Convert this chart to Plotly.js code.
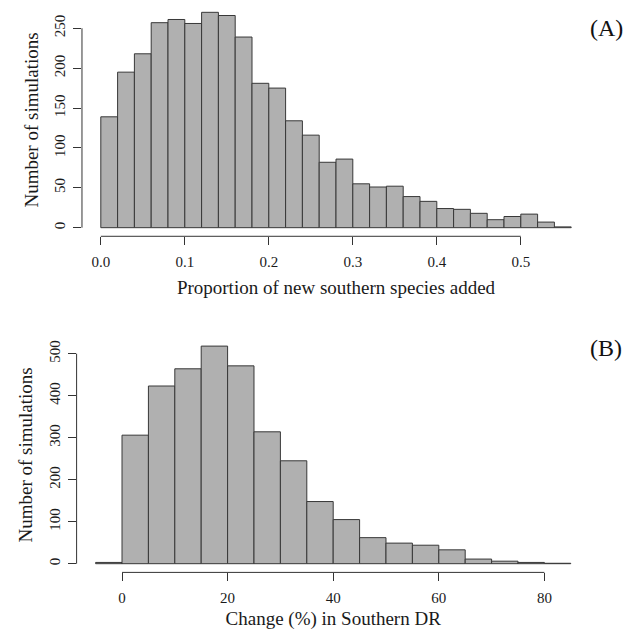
<!DOCTYPE html>
<html><head><meta charset="utf-8">
<script src="https://cdn.plot.ly/plotly-3.0.1.min.js"></script>
<style>html,body{margin:0;padding:0;background:#fff;}</style>
</head><body><div id="chart" style="width:636px;height:634px;"></div>
<script>
// Panel A: proportion of new southern species added (bin edges + counts)
const edgesA = [0,0.02,0.04,0.06,0.08,0.10,0.12,0.14,0.16,0.18,0.20,0.22,0.24,0.26,0.28,0.30,0.32,0.34,0.36,0.38,0.40,0.42,0.44,0.46,0.48,0.50,0.52,0.54,0.56];
const countsA = [139,195,218,257,261,256,270,266,239,181,175,134,116,82,86,55,51,52,39,33,24,23,18,10,14,17,7,1];
const xTicksA = [0,0.1,0.2,0.3,0.4,0.5];
const xTickTextA = ["0.0","0.1","0.2","0.3","0.4","0.5"];
const yTicksA = [0,50,100,150,200,250];

// Panel B: change (%) in Southern DR
const edgesB = [-5,0,5,10,15,20,25,30,35,40,45,50,55,60,65,70,75,80,85];
const countsB = [3,306,423,464,518,471,314,245,148,105,62,49,44,33,11,6,3,1];
const xTicksB = [0,20,40,60,80];
const yTicksB = [0,100,200,300,400,500];

const titleA = "Proportion of new southern species added";
const titleB = "Change (%) in Southern DR";
const yTitle = "Number of simulations";

const FONT = "Liberation Serif, 'Times New Roman', serif";
const BAR_FILL = "#b0b0b0";
const BAR_LINE = "#383838";
const AX = "#333333";
const TXT = "#1a1a1a";

function centers(e){ const c=[]; for(let i=0;i<e.length-1;i++) c.push((e[i]+e[i+1])/2); return c; }
function widths(e){ const w=[]; for(let i=0;i<e.length-1;i++) w.push(e[i+1]-e[i]); return w; }
function padRange(lo,hi){ const d=(hi-lo)*0.04; return [lo-d,hi+d]; }

const traces = [
  {type:'bar', x:centers(edgesA), y:countsA, width:widths(edgesA), xaxis:'x', yaxis:'y',
   marker:{color:BAR_FILL, line:{color:BAR_LINE, width:1}}, hoverinfo:'x+y'},
  {type:'bar', x:centers(edgesB), y:countsB, width:widths(edgesB), xaxis:'x2', yaxis:'y2',
   marker:{color:BAR_FILL, line:{color:BAR_LINE, width:1}}, hoverinfo:'x+y'}
];

const common = {showgrid:false, zeroline:false, showline:false, ticks:'outside', ticklen:8,
  tickwidth:1, tickcolor:AX, tickfont:{family:FONT,size:15,color:TXT}, fixedrange:true, automargin:false};

const layout = {
  width:636, height:634, margin:{l:0,r:0,t:0,b:0}, showlegend:false,
  paper_bgcolor:'#ffffff', plot_bgcolor:'#ffffff', bargap:0,
  font:{family:FONT, size:15, color:TXT},
  xaxis:Object.assign({}, common, {domain:[0.1289,0.9277], anchor:'y',
    range:padRange(edgesA[0], edgesA[edgesA.length-1]),
    tickmode:'array', tickvals:xTicksA, ticktext:xTickTextA, ticklabelstandoff:4,
    title:{text:titleA, font:{family:FONT,size:19,color:TXT}, standoff:11}}),
  yaxis:Object.assign({}, common, {domain:[0.6273,0.99416], anchor:'x',
    range:padRange(0, Math.max(...countsA)), tickangle:-90,
    tickmode:'array', tickvals:yTicksA, ticklabelstandoff:2,
    title:{text:yTitle, font:{family:FONT,size:19,color:TXT}, standoff:8}}),
  xaxis2:Object.assign({}, common, {domain:[0.12044,0.92736], anchor:'y2',
    range:padRange(edgesB[0], edgesB[edgesB.length-1]),
    tickmode:'array', tickvals:xTicksB, ticklabelstandoff:4,
    title:{text:titleB, font:{family:FONT,size:19,color:TXT}, standoff:6}}),
  yaxis2:Object.assign({}, common, {domain:[0.09716,0.46782], anchor:'x2',
    range:padRange(0, Math.max(...countsB)), tickangle:-90,
    tickmode:'array', tickvals:yTicksB, ticklabelstandoff:2,
    title:{text:yTitle, font:{family:FONT,size:19,color:TXT}, standoff:8}}),
  shapes:[
    {type:'line', xref:'x', yref:'y domain', x0:xTicksA[0], x1:xTicksA[xTicksA.length-1], y0:0, y1:0, line:{color:AX,width:1}},
    {type:'line', xref:'x domain', yref:'y', x0:0, x1:0, y0:yTicksA[0], y1:yTicksA[yTicksA.length-1], line:{color:AX,width:1}},
    {type:'line', xref:'x2', yref:'y2 domain', x0:xTicksB[0], x1:xTicksB[xTicksB.length-1], y0:0, y1:0, line:{color:AX,width:1}},
    {type:'line', xref:'x2 domain', yref:'y2', x0:0, x1:0, y0:yTicksB[0], y1:yTicksB[yTicksB.length-1], line:{color:AX,width:1}}
  ],
  annotations:[
    {text:'(A)', xref:'paper', yref:'paper', x:0.953, y:1-28/634, xanchor:'center', yanchor:'middle', showarrow:false, font:{family:FONT,size:24,color:'#111'}},
    {text:'(B)', xref:'paper', yref:'paper', x:0.953, y:1-348/634, xanchor:'center', yanchor:'middle', showarrow:false, font:{family:FONT,size:24,color:'#111'}}
  ]
};

Plotly.newPlot('chart', traces, layout, {displayModeBar:false, staticPlot:true});
</script>
</body></html>
